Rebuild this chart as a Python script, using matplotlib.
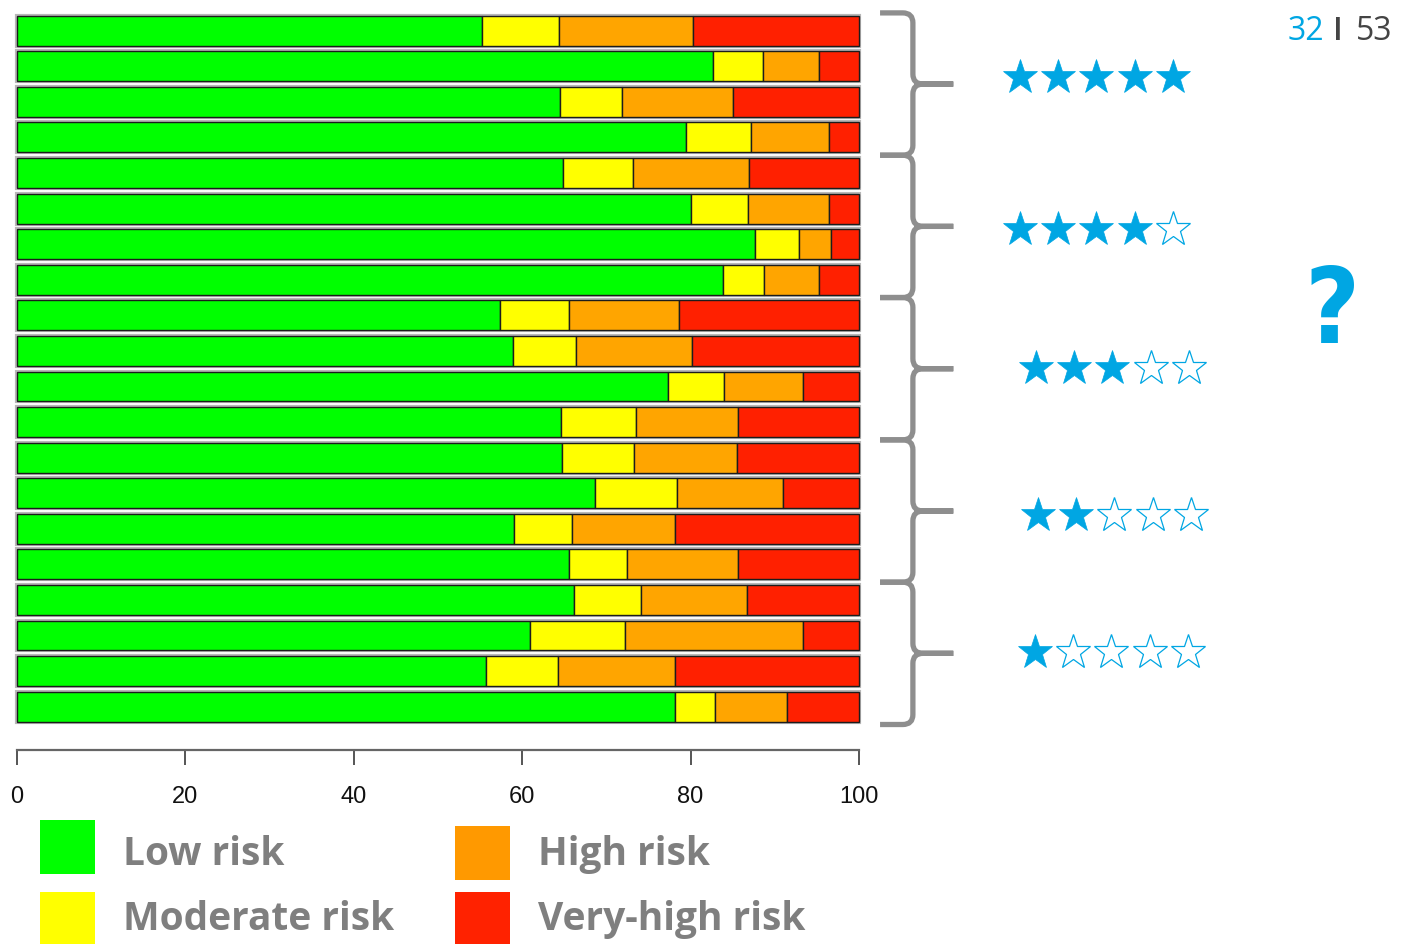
import numpy as np
import matplotlib
matplotlib.use('Agg')
import matplotlib.pyplot as plt
from matplotlib.path import Path
from matplotlib.patches import PathPatch, Rectangle

# ---------------- data ----------------
categories = ['Low risk', 'Moderate risk', 'High risk', 'Very-high risk']
low = [55.2, 82.7, 64.5, 79.5, 64.8, 80.1, 87.7, 83.8, 57.4, 58.9,
       77.3, 64.6, 64.7, 68.6, 59.0, 65.6, 66.1, 60.9, 55.7, 78.1]
moderate = [9.2, 5.9, 7.4, 7.7, 8.3, 6.7, 5.2, 4.9, 8.2, 7.5,
            6.7, 8.9, 8.6, 9.8, 6.9, 6.8, 8.0, 11.3, 8.5, 4.8]
high = [15.9, 6.6, 13.1, 9.2, 13.8, 9.6, 3.8, 6.6, 13.0, 13.8,
        9.3, 12.1, 12.2, 12.6, 12.2, 13.2, 12.6, 21.2, 13.9, 8.6]
very_high = [19.7, 4.8, 15.0, 3.6, 13.1, 3.6, 3.3, 4.7, 21.4, 19.8,
             6.7, 14.4, 14.5, 9.0, 21.9, 14.4, 13.3, 6.6, 21.9, 8.5]
x_ticks = [0, 20, 40, 60, 80, 100]
star_ratings = [5, 4, 3, 2, 1]
group_size = 4
page_current = '32'
page_total = '53'

# ---------------- style ----------------
bar_colors = ['#00FF00', '#FFFF00', '#FFA500', '#FF2000']
legend_colors = ['#00FF00', '#FFFF00', '#FF9900', '#FF2200']
blue = '#00A6E3'
brace_gray = '#8E8E8E'

W, H = 1406, 945
fig = plt.figure(figsize=(W / 100, H / 100), dpi=100)
fig.patch.set_facecolor('white')

top_px, bot_px = 13.9, 725.5
ax = fig.add_axes([17 / W, 1 - bot_px / H, 842 / W, (bot_px - top_px) / H])

series = [low, moderate, high, very_high]
n = len(low)
y = np.arange(n)
ax.barh(y, [100] * n, height=0.84, color='none', edgecolor='#b8b8b8',
        linewidth=3.0, zorder=1, clip_on=False)
left = np.zeros(n)
for vals, col in zip(series, bar_colors):
    ax.barh(y, vals, left=left, height=0.84, color=col, edgecolor='#1c1c1c',
            linewidth=1.0, zorder=2, clip_on=False)
    left += np.array(vals)

ax.set_xlim(0, 100)
ax.set_ylim(n - 0.5, -0.5)
for s in ['left', 'right', 'top']:
    ax.spines[s].set_visible(False)
ax.spines['bottom'].set_position(('outward', 18.4))
ax.spines['bottom'].set_bounds(0, 100)
ax.spines['bottom'].set_color('#666666')
ax.spines['bottom'].set_linewidth(1.6)
ax.set_yticks([])
ax.set_xticks(x_ticks)
ax.set_xticklabels([str(t) for t in x_ticks],
                   fontfamily=['Liberation Sans', 'DejaVu Sans'])
ax.tick_params(axis='x', length=11, width=1.4, color='#555555', pad=14,
               labelsize=17, labelcolor='#111111')
ax.patch.set_alpha(0)

# braces (x in data units beyond 100, y in bar index units)
x0, xh, xt = 106.4, 102.5, 111.2
rx, ry = 1.2, 0.28
for g in range(len(star_ratings)):
    top = g * group_size - 0.5
    bot = g * group_size + group_size - 0.5
    mid = (top + bot) / 2
    verts = [(xh, top), (x0 - rx, top), (x0, top), (x0, top + ry),
             (x0, mid - ry), (x0, mid), (x0 + rx, mid), (xt, mid),
             (xh, bot), (x0 - rx, bot), (x0, bot), (x0, bot - ry),
             (x0, mid + ry), (x0, mid), (x0 + rx, mid), (xt, mid)]
    codes = [Path.MOVETO, Path.LINETO, Path.CURVE3, Path.CURVE3,
             Path.LINETO, Path.CURVE3, Path.CURVE3, Path.LINETO] * 2
    ax.add_patch(PathPatch(Path(verts, codes), fill=False, edgecolor=brace_gray,
                           linewidth=3.8, capstyle='butt', joinstyle='round',
                           clip_on=False, zorder=3))

# ---------------- overlay (pixel coordinates) ----------------
ov = fig.add_axes([0, 0, 1, 1])
ov.set_xlim(0, W)
ov.set_ylim(H, 0)
ov.axis('off')
ov.patch.set_alpha(0)

row_x = [1020, 1020, 1036, 1038, 1035]
row_y = [78, 230, 369, 516, 653]
step = 38.2
for r, sx, sy in zip(star_ratings, row_x, row_y):
    for j in range(5):
        filled = j < r
        ov.plot(sx + j * step, sy, marker='*', markersize=26,
                markerfacecolor=blue if filled else 'white',
                markeredgecolor=blue, markeredgewidth=0.9 if not filled else 0.5,
                linestyle='none')

ov.text(1332, 343, '?', color=blue, fontsize=76, fontweight='bold',
        fontstretch='condensed',
        fontfamily=['DejaVu Sans', 'Open Sans'], ha='center', va='baseline')

ov.text(1288, 40, page_current, color=blue, fontsize=23,
        fontfamily=['Open Sans', 'DejaVu Sans'], ha='left', va='baseline')
ov.text(1338, 40, 'I', color='#444444', fontsize=23, fontweight='semibold',
        fontfamily=['Open Sans', 'DejaVu Sans'], ha='center', va='baseline')
ov.text(1392, 40, page_total, color='#444444', fontsize=23,
        fontfamily=['Open Sans', 'DejaVu Sans'], ha='right', va='baseline')

# legend
leg_pos = [(40, 821, 865), (40, 893, 930), (455, 827, 865), (455, 893, 930)]
for lab, col, (lx, ly, base) in zip(categories, legend_colors, leg_pos):
    ov.add_patch(Rectangle((lx, ly), 55, 54, facecolor=col, edgecolor='none'))
    ov.text(lx + 83, base, lab, color='#7F7F7F', fontsize=28, fontweight='bold',
            fontfamily=['Open Sans', 'DejaVu Sans'], ha='left', va='baseline')

fig.savefig('out.png', dpi=100, facecolor='white')
